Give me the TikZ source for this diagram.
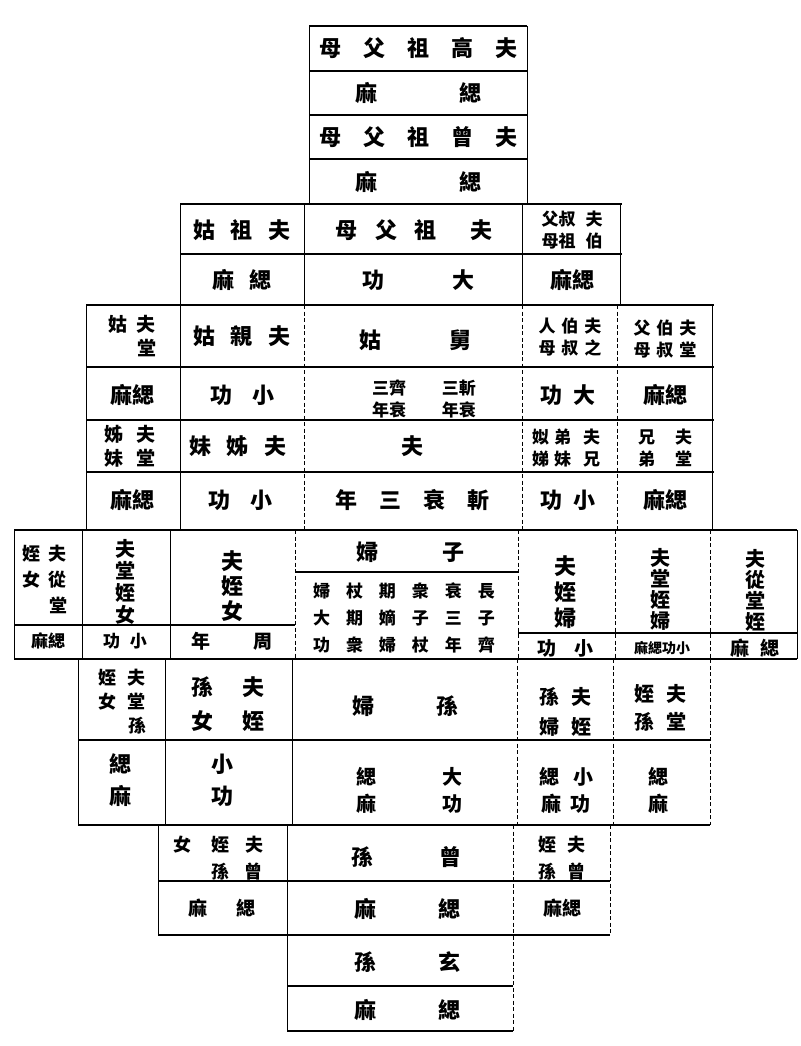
\documentclass[tikz,border=0pt]{standalone}
\usepackage{fontspec}
\newfontfamily\kai{Noto Sans CJK TC}
\newcommand\gp{\hskip 0.7em}
\newcommand\gq{\hskip 1em}
\newcommand\cg{\hskip 16pt}
\tikzset{
  big/.style={font=\kai\bfseries\fontsize{22}{28}\selectfont, inner sep=0pt, align=center},
  mid/.style={font=\kai\bfseries\fontsize{19}{24}\selectfont, inner sep=0pt, align=center},
  small/.style={font=\kai\bfseries\fontsize{17}{22}\selectfont, inner sep=0pt, align=center},
  hline/.style={line width=1.4pt},
  vline/.style={line width=1pt},
  dline/.style={line width=0.9pt, dash pattern=on 4pt off 2.5pt},
}
\begin{document}
\begin{tikzpicture}[x=1pt,y=-1pt]
\useasboundingbox (0,0) rectangle (800,1046);
%\draw (0,0) grid[step=100] (800,1046);
% horizontal rules
\foreach \y in {26,71,115,159} \draw[hline] (309,\y) -- (527,\y);
\foreach \y in {204,254} \draw[hline] (180,\y) -- (622,\y);
\foreach \y in {305,367,420,472} \draw[hline] (86,\y) -- (714,\y);
\draw[hline] (14,530) -- (797,530);
\draw[hline] (295,572) -- (518,572);
\draw[hline] (14,625) -- (295,625);
\draw[hline] (518,633) -- (797,633);
\draw[hline] (14,659) -- (797,659);
\foreach \y in {740,825} \draw[hline] (78,\y) -- (710,\y);
\foreach \y in {881,935} \draw[hline] (158,\y) -- (610,\y);
\foreach \y in {986,1031} \draw[hline] (287,\y) -- (513,\y);
% vertical rules
\draw[vline] (309,26) -- (309,204);
\draw[vline] (527,26) -- (527,204);
\draw[vline] (180,204) -- (180,530);
\draw[vline] (304,204) -- (304,305);
\draw[vline] (522,204) -- (522,305);
\draw[vline] (620,204) -- (620,305);
\draw[vline] (86,305) -- (86,530);
\draw[vline] (712,305) -- (712,530);
\draw[dline] (304,305) -- (304,530);
\draw[dline] (522,305) -- (522,530);
\draw[dline] (617,305) -- (617,530);
\foreach \x in {14,82,170,797} \draw[vline] (\x,530) -- (\x,659);
\foreach \x in {295,518,615,710} \draw[dline] (\x,530) -- (\x,659);
\foreach \x in {78,165,292} \draw[vline] (\x,659) -- (\x,825);
\foreach \x in {517,613,710} \draw[dline] (\x,659) -- (\x,825);
\draw[vline] (158,825) -- (158,935);
\draw[vline] (287,825) -- (287,1031);
\draw[dline] (513,825) -- (513,1031);
\draw[dline] (610,825) -- (610,935);
% great-great-grandparents, great-grandparents
\node[big] (gaozu) at (418,48) {母\gq 父\gq 祖\gq 高\gq 夫};
\node[big] (gaozum) at (418,93) {麻\hskip 82pt 緦};
\node[big] (zengzu) at (418,137) {母\gq 父\gq 祖\gq 曾\gq 夫};
\node[big] (zengzum) at (418,182) {麻\hskip 82pt 緦};
% grandparents row
\node[big] (zugu) at (242,230) {姑\gp 祖\gp 夫};
\node[big] (zufu) at (414,230) {母\hskip 18pt 父\hskip 18pt 祖\hskip 34pt 夫};
\node[small] (bszu) at (572,230) {父叔\hskip 10pt 夫\\母祖\hskip 10pt 伯};
\node[big] (zugum) at (242,280) {麻\gp 緦};
\node[big] (zufum) at (418,280) {功\hskip 68pt 大};
\node[big] (bszum) at (572,280) {麻緦};
% parents row
\node[mid] (tanggu) at (132,336) {姑\hskip 10pt 夫\\\phantom{姑}\hskip 10pt 堂};
\node[big] (qingu) at (242,336) {姑\gp 親\gp 夫};
\node[big] (jiugu) at (415,340) {姑\hskip 68pt 舅};
\node[small] (bsmu) at (570,337) {人\hskip 6pt 伯\hskip 6pt 夫\\母\hskip 6pt 叔\hskip 6pt 之};
\node[small] (tangbs) at (665,339) {父\hskip 6pt 伯\hskip 6pt 夫\\母\hskip 6pt 叔\hskip 6pt 堂};
\node[big] (tanggum) at (132,395) {麻緦};
\node[big] (qingum) at (242,395) {功\hskip 20pt 小};
\node[small] (jiugum) at (424,399) {三齊\hskip 36pt 三斬\\年衰\hskip 36pt 年衰};
\node[big] (bsmum) at (568,395) {功\hskip 12pt 大};
\node[big] (tangbsm) at (665,395) {麻緦};
% own generation
\node[mid] (tangzm) at (130,446) {姊\hskip 14pt 夫\\妹\hskip 14pt 堂};
\node[big] (zimei) at (238,446) {妹\gp 姊\gp 夫};
\node[big] (fu) at (412,446) {夫};
\node[small] (xiongdi) at (566,448) {姒\hskip 5pt 弟\hskip 12pt 夫\\娣\hskip 5pt 妹\hskip 12pt 兄};
\node[small] (tangxd) at (665,448) {兄\hskip 20pt 夫\\弟\hskip 20pt 堂};
\node[big] (tangzmm) at (132,500) {麻緦};
\node[big] (zimeim) at (240,500) {功\hskip 20pt 小};
\node[big] (fum) at (412,500) {年\gq 三\gq 衰\gq 斬};
\node[big] (xiongdim) at (568,500) {功\hskip 12pt 小};
\node[big] (tangxdm) at (665,500) {麻緦};
% children row
\node[font=\kai\bfseries\fontsize{18}{26}\selectfont, inner sep=0pt, align=center] (congnv) at (45,580) {姪\hskip 8pt 夫\\女\hskip 8pt 從\\\phantom{女}\hskip 8pt 堂};
\node[font=\kai\bfseries\fontsize{20}{22}\selectfont, inner sep=0pt, align=center] (tangnv) at (125,582) {夫\\堂\\姪\\女};
\node[font=\kai\bfseries\fontsize{22}{25}\selectfont, inner sep=0pt, align=center] (zhinv) at (232,586) {夫\\姪\\女};
\node[big] (zifu) at (410,552) {婦\hskip 64pt 子};
\node[font=\kai\bfseries\fontsize{17}{27}\selectfont, inner sep=0pt, align=center] (zilist) at (404,618)
  {婦\cg 杖\cg 期\cg 衆\cg 衰\cg 長\\大\cg 期\cg 嫡\cg 子\cg 三\cg 子\\功\cg 衆\cg 婦\cg 杖\cg 年\cg 齊};
\node[font=\kai\bfseries\fontsize{22}{26}\selectfont, inner sep=0pt, align=center] (zhifu) at (565,592) {夫\\姪\\婦};
\node[font=\kai\bfseries\fontsize{20}{21}\selectfont, inner sep=0pt, align=center] (tangzf) at (660,589) {夫\\堂\\姪\\婦};
\node[font=\kai\bfseries\fontsize{20}{21}\selectfont, inner sep=0pt, align=center] (congzhi) at (755,590) {夫\\從\\堂\\姪};
\node[small] (congnvm) at (48,641) {麻緦};
\node[small] (tangnvm) at (125,641) {功\hskip 10pt 小};
\node[mid] (zhinvm) at (232,641) {年\hskip 44pt 周};
\node[mid] (zhifum) at (565,648) {功\hskip 18pt 小};
\node[font=\kai\bfseries\fontsize{14}{16}\selectfont, inner sep=0pt] (tangzfm) at (662,648) {麻緦功小};
\node[mid] (congzhim) at (755,648) {麻\hskip 12pt 緦};
% grandchildren row
\node[font=\kai\bfseries\fontsize{18}{24}\selectfont, inner sep=0pt, align=center] (tangsn) at (122,702) {姪\hskip 12pt 夫\\女\hskip 12pt 堂\\\phantom{女}\hskip 12pt 孫};
\node[font=\kai\bfseries\fontsize{22}{34}\selectfont, inner sep=0pt, align=center] (zhisn) at (228,704) {孫\hskip 30pt 夫\\女\hskip 30pt 姪};
\node[big] (sunfu) at (405,706) {婦\hskip 62pt 孫};
\node[font=\kai\bfseries\fontsize{20}{30}\selectfont, inner sep=0pt, align=center] (zhisf) at (565,712) {孫\hskip 12pt 夫\\婦\hskip 12pt 姪};
\node[font=\kai\bfseries\fontsize{20}{28}\selectfont, inner sep=0pt, align=center] (tangzs) at (660,708) {姪\hskip 12pt 夫\\孫\hskip 12pt 堂};
\node[font=\kai\bfseries\fontsize{22}{32}\selectfont, inner sep=0pt, align=center] (tangsnm) at (120,780) {緦\\麻};
\node[font=\kai\bfseries\fontsize{22}{32}\selectfont, inner sep=0pt, align=center] (zhisnm) at (222,780) {小\\功};
\node[font=\kai\bfseries\fontsize{20}{27}\selectfont, inner sep=0pt, align=center] (sunfum) at (409,790) {緦\hskip 66pt 大\\麻\hskip 66pt 功};
\node[font=\kai\bfseries\fontsize{20}{27}\selectfont, inner sep=0pt, align=center] (zhisfm) at (566,790) {緦\hskip 14pt 小\\麻\hskip 10pt 功};
\node[font=\kai\bfseries\fontsize{20}{27}\selectfont, inner sep=0pt, align=center] (tangzsm) at (658,790) {緦\\麻};
% great-grandchildren, great-great-grandchildren
\node[font=\kai\bfseries\fontsize{18}{27}\selectfont, inner sep=0pt, align=center] (zengnv) at (218,858) {女\hskip 20pt 姪\hskip 16pt 夫\\\phantom{女}\hskip 20pt 孫\hskip 16pt 曾};
\node[big] (zengsun) at (406,857) {孫\hskip 66pt 曾};
\node[font=\kai\bfseries\fontsize{18}{27}\selectfont, inner sep=0pt, align=center] (zengzhi) at (562,858) {姪\hskip 12pt 夫\\孫\hskip 12pt 曾};
\node[mid] (zengnvm) at (222,908) {麻\hskip 30pt 緦};
\node[big] (zengsunm) at (407,909) {麻\hskip 62pt 緦};
\node[mid] (zengzhim) at (562,908) {麻緦};
\node[big] (xuansun) at (407,962) {孫\hskip 62pt 玄};
\node[big] (xuansunm) at (407,1010) {麻\hskip 62pt 緦};
\end{tikzpicture}
\end{document}
